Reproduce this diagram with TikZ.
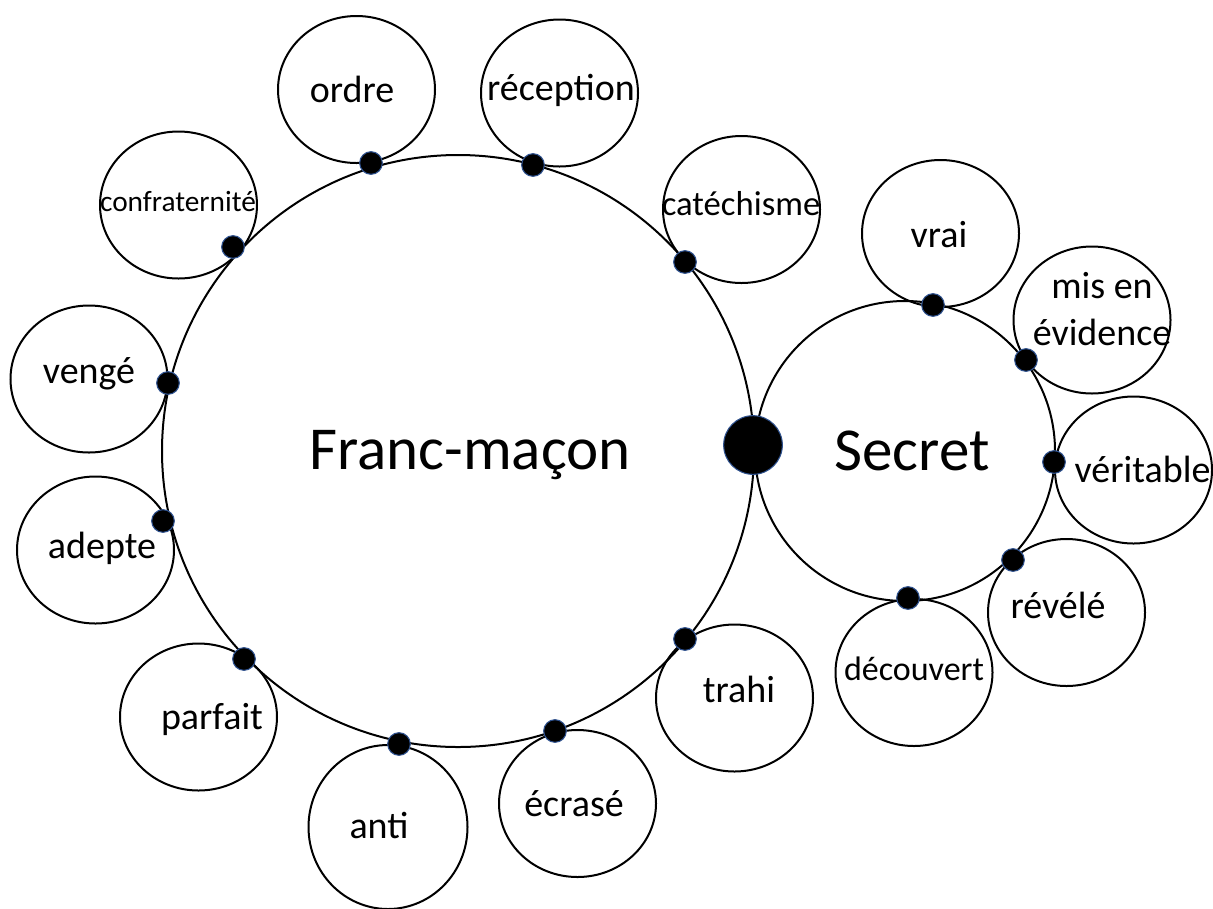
\documentclass[tikz,border=0pt]{standalone}
\usepackage{fontspec}
\setmainfont{Carlito}
\usepackage{tikz}
\usetikzlibrary{shapes.geometric}

\definecolor{pinrim}{RGB}{47,82,143}

\begin{document}
\begin{tikzpicture}[x=0.75pt, y=-0.75pt,
   hub/.style={draw, circle, line width=1.5pt, inner sep=0pt},
   bubble/.style={draw, ellipse, line width=1.5pt, inner sep=0pt,
      minimum width=117.75pt, minimum height=110.25pt},
   pin/.style={circle, fill=black, draw=pinrim, line width=0.8pt,
      inner sep=0pt, minimum size=17pt},
   word/.style={anchor=base, inner sep=0pt, font=\fontsize{28.5}{30}\selectfont},
   bigword/.style={anchor=base, inner sep=0pt, font=\fontsize{45.75}{48}\selectfont}]
   \useasboundingbox (0,0) rectangle (1213,908);
   % the two main circles
   \node[hub, minimum size=444pt] (franc) at (458, 451) {};
   \node[hub, minimum size=225pt] (secret) at (905, 451) {};
   \node[bigword] (tfranc) at (470, 469) {Franc-maçon};
   \node[bigword] (tsecret) at (912, 470) {Secret};
   % bubbles round Franc-macon
   \node[bubble] (ordre) at (356.5, 89.5) {};
   \node[bubble] (recep) at (559.5, 93) {};
   \node[bubble] (catech) at (741.5, 209.5) {};
   \node[bubble] (confra) at (178.5, 205) {};
   \node[bubble] (venge) at (89, 379) {};
   \node[bubble] (adepte) at (95.5, 550) {};
   \node[bubble] (parfait) at (198.5, 717) {};
   \node[bubble, minimum width=119.25pt, minimum height=123pt] (anti) at (388, 827) {};
   \node[bubble] (ecrase) at (577.5, 803.5) {};
   \node[bubble] (trahi) at (734.5, 698) {};
   % bubbles round Secret
   \node[bubble] (vrai) at (940.5, 233.5) {};
   \node[bubble] (evid) at (1092, 320) {};
   \node[bubble] (verit) at (1133.5, 470) {};
   \node[bubble] (revele) at (1066.5, 612.5) {};
   \node[bubble] (decouv) at (914, 672.5) {};
   % words
   \node[word] (tordre) at (352, 102) {ordre};
   \node[word] (trecep) at (561, 100) {réception};
   \node[word, font=\fontsize{26}{28}\selectfont] (tcatech) at (741, 215) {catéchisme};
   \node[word, font=\fontsize{22}{24}\selectfont] (tconfra) at (178, 211) {confraternité};
   \node[word] (tvenge) at (89, 383) {vengé};
   \node[word] (tadepte) at (102, 558) {adepte};
   \node[word] (tparfait) at (212, 729) {parfait};
   \node[word] (tanti) at (379, 838) {anti};
   \node[word] (tecrase) at (574, 816) {écrasé};
   \node[word] (ttrahi) at (739, 702) {trahi};
   \node[word] (tvrai) at (939, 247) {vrai};
   \node[word, anchor=center, align=center, font=\fontsize{28.5}{35}\selectfont] (tevid) at (1102, 309) {mis en\\évidence};
   \node[word] (tverit) at (1142.5, 482) {véritable};
   \node[word] (trevele) at (1058, 618) {révélé};
   \node[word, font=\fontsize{25.5}{27}\selectfont] (tdecouv) at (914, 680) {découvert};
   % pins where the bubbles touch
   \node[pin] (pordre) at (371, 163) {};
   \node[pin] (precep) at (533, 165) {};
   \node[pin] (pcatech) at (685, 262) {};
   \node[pin] (pconfra) at (233, 247) {};
   \node[pin] (pvenge) at (168, 383) {};
   \node[pin] (padepte) at (163, 521) {};
   \node[pin] (pparfait) at (244, 659) {};
   \node[pin] (panti) at (399, 744) {};
   \node[pin] (pecrase) at (555, 731) {};
   \node[pin] (ptrahi) at (685, 639) {};
   \node[pin] (pvrai) at (933, 305) {};
   \node[pin] (pevid) at (1026, 360) {};
   \node[pin] (pverit) at (1054, 462) {};
   \node[pin] (prevele) at (1013, 560) {};
   \node[pin] (pdecouv) at (908, 598) {};
   \node[pin, minimum size=44pt] (pjoin) at (753, 445) {};
\end{tikzpicture}
\end{document}
